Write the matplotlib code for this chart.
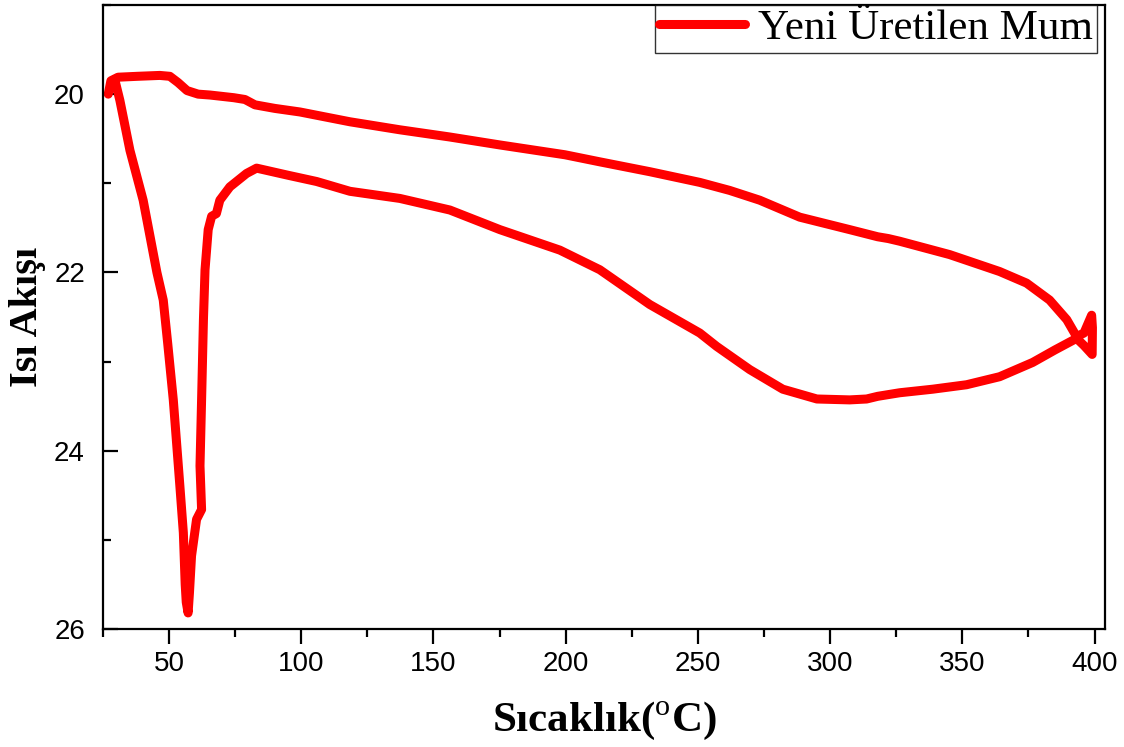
import matplotlib
matplotlib.use("Agg")
import matplotlib.pyplot as plt
from matplotlib.ticker import MultipleLocator

plt.rcParams["mathtext.fontset"] = "custom"
plt.rcParams["mathtext.rm"] = "Liberation Serif"
plt.rcParams["mathtext.bf"] = "Liberation Serif:bold"

# DSC loop: heating branch (top), then cooling branch back to the start
sicaklik = [
    27.0, 28.0, 30.7, 38.0, 46.5, 50.3, 53.4, 56.8, 61.0, 65.5, 74.5, 78.7,
    82.5, 90.0, 99.5, 118.4, 137.3, 156.0, 175.1, 199.7, 213.0, 231.8, 250.7,
    262.0, 273.4, 288.5, 307.4, 318.0, 322.0, 326.3, 345.2, 364.1, 374.3,
    383.0, 389.5, 393.2, 396.0, 398.9, 399.2, 399.1, 396.0, 393.2,
    385.0, 376.6, 364.1, 351.6, 338.8, 326.3, 318.0, 313.8, 307.4, 295.0,
    282.1, 269.6, 257.1, 250.7, 231.8, 212.9, 197.8, 175.1, 156.2, 137.3,
    118.4, 105.8, 95.0, 83.1, 79.3, 73.0, 69.2, 67.9, 66.1, 64.8, 63.6, 63.0,
    62.3, 61.7, 62.3, 60.4, 58.5, 57.7, 57.2, 56.5, 56.1, 55.4, 54.1, 51.6,
    49.5, 47.8, 45.4, 40.2, 35.2, 31.4, 29.5,
]
isi_akisi = [
    20.00, 19.85, 19.81, 19.80, 19.79, 19.80, 19.87, 19.96, 20.00, 20.01, 20.04, 20.06,
    20.12, 20.16, 20.20, 20.31, 20.40, 20.48, 20.57, 20.68, 20.76, 20.87, 20.99,
    21.08, 21.19, 21.38, 21.52, 21.60, 21.62, 21.65, 21.80, 21.99, 22.12,
    22.31, 22.53, 22.72, 22.68, 22.48, 22.62, 22.92, 22.82, 22.74,
    22.87, 23.01, 23.17, 23.26, 23.31, 23.35, 23.39, 23.42, 23.43, 23.42,
    23.31, 23.09, 22.83, 22.68, 22.36, 21.97, 21.75, 21.52, 21.30, 21.17,
    21.09, 20.98, 20.91, 20.83, 20.89, 21.04, 21.19, 21.34, 21.37, 21.52, 21.97, 22.53,
    23.43, 24.17, 24.66, 24.77, 25.18, 25.60, 25.82, 25.70, 25.50, 24.92, 24.40, 23.43,
    22.80, 22.31, 22.00, 21.19, 20.63, 20.07, 19.84,
]

fig = plt.figure(figsize=(11.24, 7.47), dpi=100)
ax = fig.add_axes([0.0916, 0.158, 0.8916, 0.8353])

ax.plot(sicaklik, isi_akisi, color="#ff0000", linewidth=6.5,
        solid_joinstyle="round", solid_capstyle="round", label="Yeni Üretilen Mum")

ax.set_xlim(25, 404)
ax.set_ylim(26, 19)
ax.xaxis.set_major_locator(MultipleLocator(50))
ax.xaxis.set_minor_locator(MultipleLocator(25))
ax.yaxis.set_major_locator(MultipleLocator(2))
ax.yaxis.set_minor_locator(MultipleLocator(1))

for s in ax.spines.values():
    s.set_linewidth(1.6)

ax.tick_params(axis="x", which="major", direction="out", length=11, width=1.6,
               pad=5, labelsize=20)
ax.tick_params(axis="x", which="minor", direction="out", length=6, width=1.6)
ax.tick_params(axis="y", which="major", direction="in", length=11, width=1.6,
               pad=13, labelsize=20)
ax.tick_params(axis="y", which="minor", direction="in", length=6, width=1.6)
for lab in ax.get_xticklabels() + ax.get_yticklabels():
    lab.set_fontfamily("Liberation Sans")

ax.set_xlabel(r"Sıcaklık($^{\mathrm{o}}$C)", fontfamily="Liberation Serif",
              fontweight="bold", fontsize=31, labelpad=16)
ax.set_ylabel("Isı Akışı", fontfamily="Liberation Serif",
              fontweight="bold", fontsize=29, labelpad=6)

leg = ax.legend(loc="upper right", bbox_to_anchor=(0.992, 1.0),
                prop={"family": "Liberation Serif", "size": 31},
                frameon=True, fancybox=False, borderaxespad=0.0, borderpad=0.1,
                handlelength=2.0, handletextpad=0.3)
leg.get_frame().set_edgecolor("black")
leg.get_frame().set_linewidth(1.0)

fig.savefig("out.png", dpi=100)
